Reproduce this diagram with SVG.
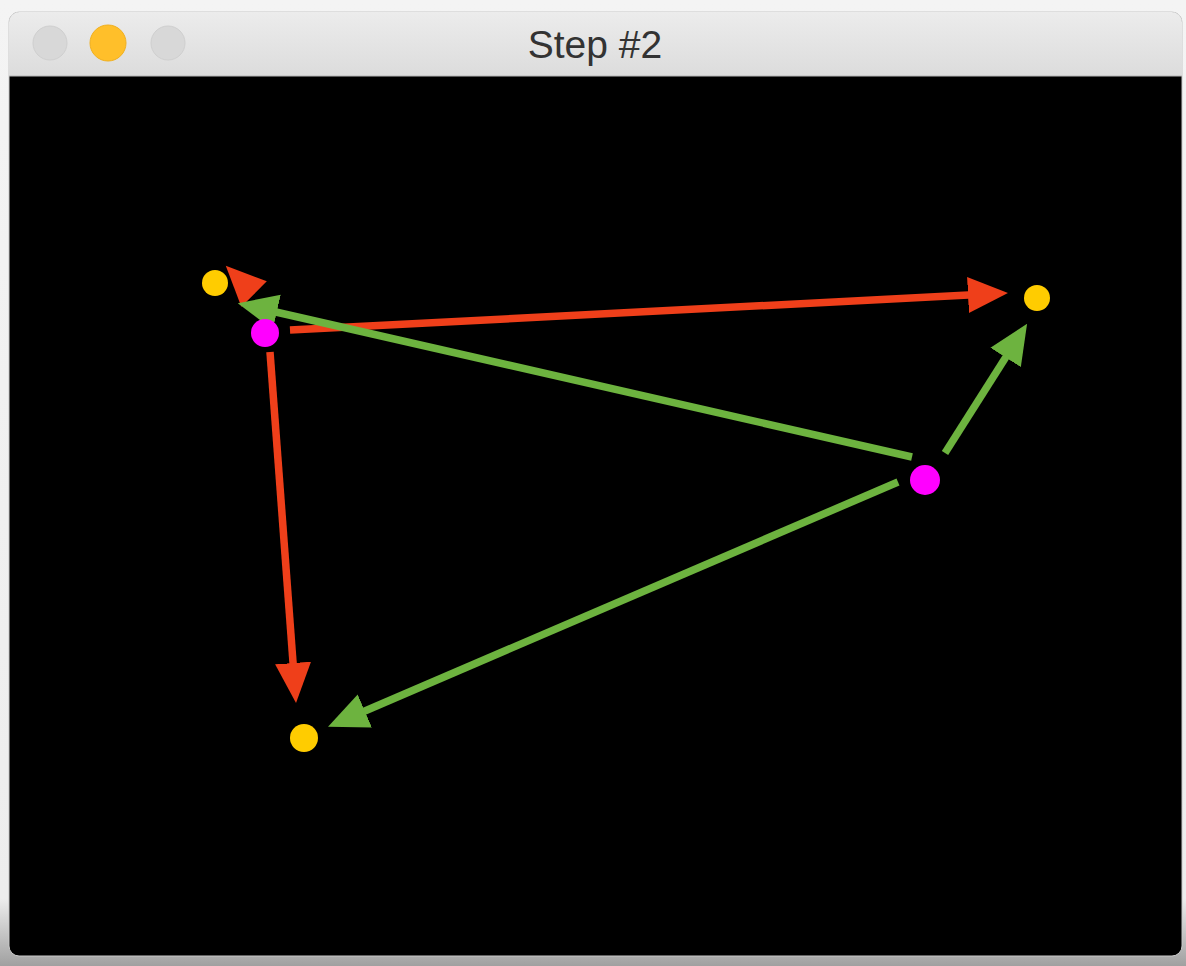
<svg xmlns="http://www.w3.org/2000/svg" width="1186" height="966" viewBox="0 0 1186 966">
  <defs>
    <linearGradient id="bar" x1="0" y1="0" x2="0" y2="1">
      <stop offset="0" stop-color="#ececec"/>
      <stop offset="1" stop-color="#dcdcdc"/>
    </linearGradient>
    <linearGradient id="shadow" x1="0" y1="0" x2="0" y2="1">
      <stop offset="0" stop-color="#f4f4f4"/>
      <stop offset="0.93" stop-color="#ededed"/>
      <stop offset="1" stop-color="#a0a0a0"/>
    </linearGradient>
    <marker id="headRed" markerUnits="userSpaceOnUse" markerWidth="42" markerHeight="38" refX="10" refY="19" orient="auto">
      <path d="M0,1 L40,19 L0,37 z" fill="#ef3f1a"/>
    </marker>
    <marker id="headGreen" markerUnits="userSpaceOnUse" markerWidth="42" markerHeight="38" refX="10" refY="19" orient="auto">
      <path d="M0,1 L40,19 L0,37 z" fill="#6db33f"/>
    </marker>
  </defs>
  <style>
    .red { stroke: #ef3f1a; stroke-width: 7.5; fill: none; marker-end: url(#headRed); }
    .green { stroke: #6db33f; stroke-width: 7.5; fill: none; marker-end: url(#headGreen); }
    .yellow { fill: #ffcc00; }
    .magenta { fill: #ff00ff; }
    .title { font-family: "Liberation Sans", Arial, sans-serif; font-size: 39px; fill: #333333; }
  </style>
  <rect x="0" y="0" width="1186" height="966" fill="url(#shadow)"/>
  <g id="window">
    <rect x="9" y="12" width="1173" height="944" rx="10" fill="#000000" stroke="#c8c8c8" stroke-width="1"/>
    <path d="M19,12 H1172 A10,10 0 0 1 1182,22 V76 H9 V22 A10,10 0 0 1 19,12 z" fill="url(#bar)"/>
    <line x1="9" y1="76" x2="1182" y2="76" stroke="#b8b8b8" stroke-width="1"/>
    <circle cx="50" cy="43" r="17" fill="#d8d8d8" stroke="#cfcfcf" stroke-width="1"/>
    <circle cx="108" cy="43" r="18" fill="#ffbf2a" stroke="#f0b020" stroke-width="1"/>
    <circle cx="168" cy="43" r="17" fill="#d8d8d8" stroke="#cfcfcf" stroke-width="1"/>
    <text class="title" x="595" y="58" text-anchor="middle">Step #2</text>
  </g>
  <g id="connectors">
    <line class="red" x1="290" y1="330" x2="978" y2="294.5"/>
    <line class="red" x1="270" y1="352" x2="293.8" y2="673"/>
    <line class="red" x1="252" y1="292" x2="247" y2="287"/>
    <line class="green" x1="912" y1="457" x2="267" y2="310"/>
    <line class="green" x1="945" y1="453" x2="1011" y2="349"/>
    <line class="green" x1="898" y1="482" x2="355.6" y2="715"/>
  </g>
  <g id="nodeA"><circle class="yellow" cx="215" cy="283" r="13"/></g>
  <g id="nodeB"><circle class="magenta" cx="265" cy="333" r="14"/></g>
  <g id="nodeC"><circle class="yellow" cx="1037" cy="298" r="13"/></g>
  <g id="nodeD"><circle class="magenta" cx="925" cy="480" r="15"/></g>
  <g id="nodeE"><circle class="yellow" cx="304" cy="738" r="14"/></g>
</svg>
